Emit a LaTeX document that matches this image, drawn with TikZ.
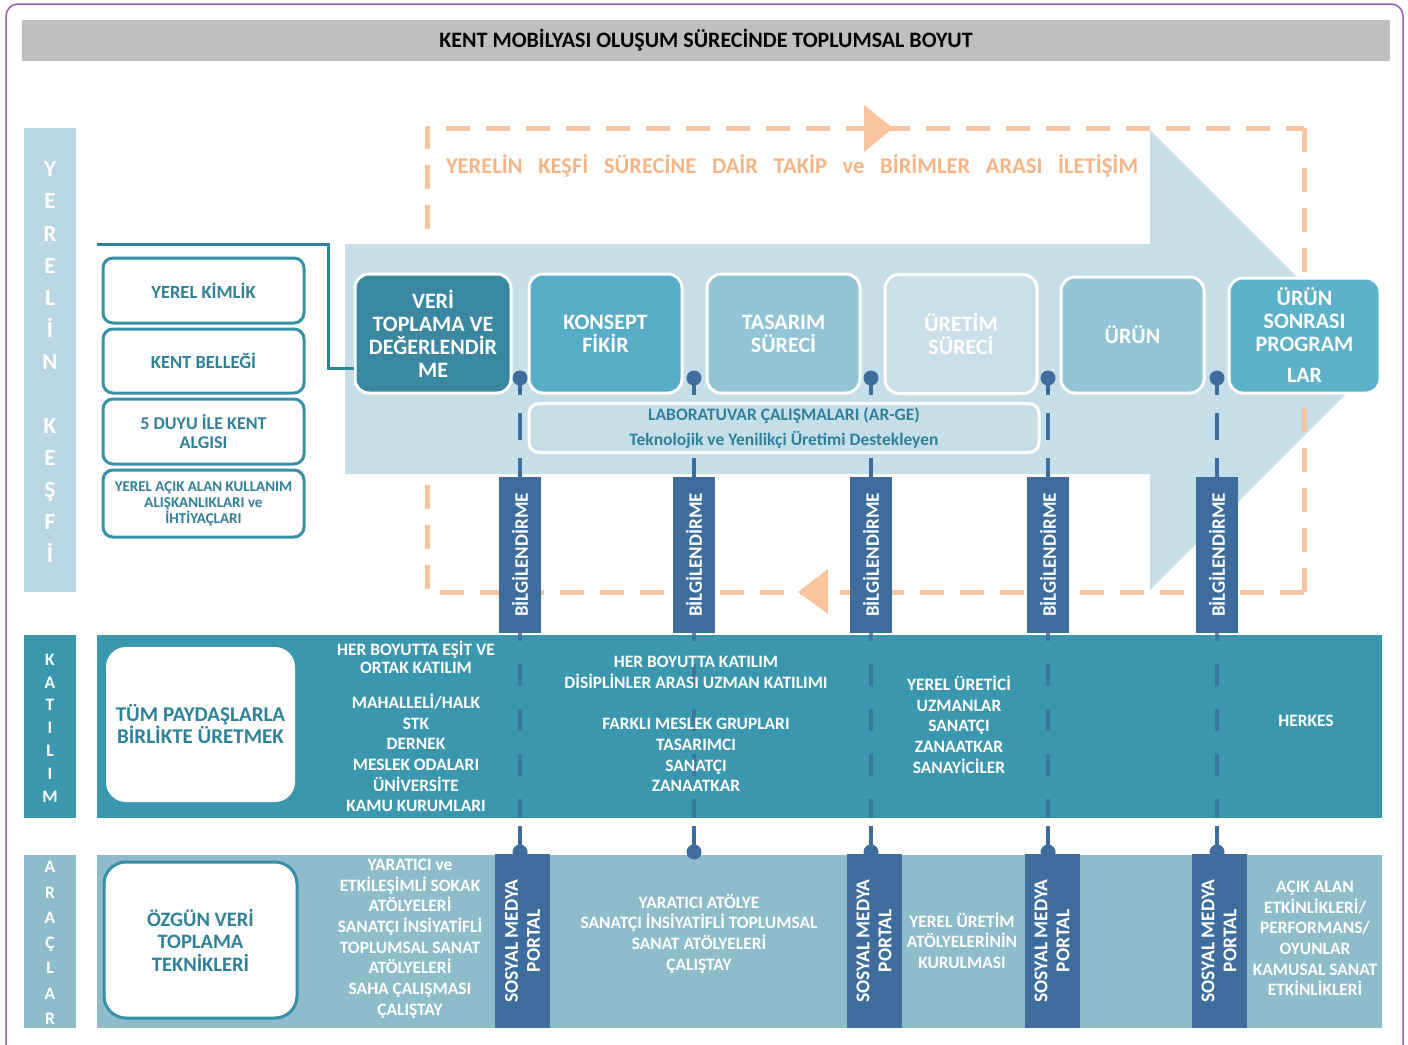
\documentclass[tikz,border=0pt]{standalone}
\usepackage{fontspec}
\setmainfont{Carlito}
\usetikzlibrary{calc}
\definecolor{titlegray}{HTML}{BFBFBF}
\definecolor{kesif}{HTML}{B9D6E2}
\definecolor{arrowc}{HTML}{C6DEE8}
\definecolor{orng}{HTML}{F9C49B}
\definecolor{orngtxt}{HTML}{F4B485}
\definecolor{tealtxt}{HTML}{2F8099}
\definecolor{tealline}{HTML}{3690A8}
\definecolor{veric}{HTML}{3A889F}
\definecolor{konc}{HTML}{58ADC6}
\definecolor{tasc}{HTML}{93C4D5}
\definecolor{uretc}{HTML}{C9E0EA}
\definecolor{sonc}{HTML}{5DB1C9}
\definecolor{dblue}{HTML}{3E6D9D}
\definecolor{katc}{HTML}{3B97AD}
\definecolor{arac}{HTML}{8EBCCB}
\definecolor{purp}{HTML}{9B59B6}
\pgfdeclarelayer{back}
\pgfdeclarelayer{mid}
\pgfsetlayers{back,mid,main}
\tikzset{
  proc/.style={draw=white, line width=3pt, rounded corners=14pt, text=white, align=center, inner sep=0pt,
    font=\fontsize{22}{23}\selectfont\bfseries, minimum height=119pt},
  lbox/.style={draw=tealline, fill=white, line width=3pt, rounded corners=10pt, text=tealtxt, align=center,
    inner sep=0pt, minimum width=201pt},
  bilgi/.style={fill=dblue, rotate=90, minimum width=156pt, minimum height=42pt, inner sep=0pt, text=white,
    font=\fontsize{19}{20}\selectfont\bfseries},
  smp/.style={fill=dblue, rotate=90, minimum width=174pt, minimum height=55pt, inner sep=0pt, text=white,
    align=center, font=\fontsize{19.5}{22}\selectfont\bfseries},
  bandtxt/.style={text=white, align=center, inner sep=0pt, font=\fontsize{17.4}{20.7}\selectfont\bfseries},
  vbar/.style={text=white, align=center, inner sep=0pt},
  upconn/.style={draw=dblue, line width=3.5pt, dash pattern=on 17pt off 18pt on 27pt off 18pt on 40pt off 0pt},
  lowconn/.style={draw=dblue, draw opacity=0.8, line width=3.5pt, dash pattern=on 22pt off 23pt, dash phase=14pt},
  stub/.style={draw=dblue, line width=3.5pt},
  dot/.style={circle, fill=dblue, minimum size=15pt, inner sep=0pt},
  odash/.style={draw=orng, line width=5pt, dash pattern=on 24pt off 16pt}
}
\begin{document}
\begin{tikzpicture}[x=1pt,y=-1pt]
\useasboundingbox (0,0) rectangle (1408,1044);
% frame and title
\draw[purp, line width=1.5pt, rounded corners=12pt] (6,1060) -- (6,4) -- (1403,4) -- (1403,1060);
\node[fill=titlegray, minimum width=1368pt, minimum height=41pt, inner sep=0pt,
  font=\fontsize{22}{24}\selectfont\bfseries] (title) at (706,40.5) {KENT MOBİLYASI OLUŞUM SÜRECİNDE TOPLUMSAL BOYUT};
% left side bars
\node[fill=kesif, minimum width=52pt, minimum height=464pt, inner sep=0pt] (kbar) at (50,360) {};
\node[vbar, font=\fontsize{23}{32.1}\selectfont\bfseries] (ktxt) at (50,362) {Y\\E\\R\\E\\L\\İ\\N\\[32.1pt]K\\E\\Ş\\F\\İ};
\node[fill=katc, minimum width=52pt, minimum height=183pt, inner sep=0pt] (tbar) at (50,726.5) {};
\node[vbar, font=\fontsize{17.5}{22.8}\selectfont\bfseries] (ttxt) at (50,728) {K\\A\\T\\I\\L\\I\\M};
\node[fill=arac, minimum width=52pt, minimum height=173pt, inner sep=0pt] (abar) at (50,941.5) {};
\node[vbar, font=\fontsize{17.5}{25.3}\selectfont\bfseries] (atxt) at (50,943) {A\\R\\A\\Ç\\L\\A\\R};
% background: dashed loop, arrow, bands
\begin{pgfonlayer}{back}
\draw[odash] (1304,592) -- (427,592) -- (427,128) -- (1304,128);
\fill[arrowc] (345,244) -- (1150,244) -- (1150,130) -- (1380,360) -- (1150,590) -- (1150,474) -- (345,474) -- cycle;
\draw[odash] (1304,128) -- (1304,592);
\fill[orng] (864,105) -- (893,128) -- (864,152) -- cycle;
\fill[orng] (828,569) -- (798,592) -- (828,614) -- cycle;
\node[fill=katc, minimum width=1285pt, minimum height=183pt, inner sep=0pt] (katband) at (739.5,726.5) {};
\node[fill=arac, minimum width=1285pt, minimum height=173pt, inner sep=0pt] (araband) at (739.5,941.5) {};
\end{pgfonlayer}
\node[text=orngtxt, inner sep=0pt, font=\fontsize{22.5}{24}\selectfont\bfseries] (otxt) at (792,166)
  {\makebox[692pt][s]{YERELİN KEŞFİ SÜRECİNE DAİR TAKİP ve BİRİMLER ARASI İLETİŞİM}};
% left boxes
\node[lbox, minimum height=65pt, font=\fontsize{18.5}{20}\selectfont\bfseries] (kimlik) at (203.5,290.5) {YEREL KİMLİK};
\node[lbox, minimum height=64pt, font=\fontsize{18.5}{20}\selectfont\bfseries] (bellek) at (203.5,361) {KENT BELLEĞİ};
\node[lbox, minimum height=65pt, font=\fontsize{18}{19.5}\selectfont\bfseries] (duyu) at (203.5,431.5) {5 DUYU İLE KENT\\ALGISI};
\node[lbox, minimum height=67pt, font=\fontsize{15}{16}\selectfont\bfseries] (acik) at (203.5,503.5) {YEREL AÇIK ALAN KULLANIM\\ALIŞKANLIKLARI ve\\İHTİYAÇLARI};
% process boxes
\node[proc, fill=veric, minimum width=156pt] (veri) at (433,333.5) {VERİ\\TOPLAMA VE\\DEĞERLENDİR\\ME};
\node[proc, fill=konc, minimum width=153pt] (konsept) at (605.5,333.5) {KONSEPT\\FİKİR};
\node[proc, fill=tasc, minimum width=153pt] (tasarim) at (783.5,333.5) {TASARIM\\SÜRECİ};
\node[proc, fill=uretc, minimum width=152pt] (uretim) at (961,334) {ÜRETİM\\SÜRECİ};
\node[proc, fill=tasc, minimum width=143pt, minimum height=116pt] (urun) at (1132.5,335) {ÜRÜN};
\node[proc, fill=sonc, minimum width=151pt, minimum height=115pt] (sonrasi) at (1304.5,335.5) {ÜRÜN\\SONRASI\\PROGRAM\\[8pt]LAR};
% teal connector from the left
\coordinate (lstart) at (97,244);
\coordinate (lbend) at (328,244);
\draw[tealtxt, line width=3pt] (lstart) -- (lbend) |- ([yshift=-34.5pt]veri.west);
% lab box
\node[draw=white, line width=3pt, rounded corners=10pt, fill=arrowc, minimum width=510pt, minimum height=49pt,
  inner sep=0pt, text=tealtxt, align=center, font=\fontsize{17.5}{25}\selectfont\bfseries] (lab) at (784,428)
  {LABORATUVAR ÇALIŞMALARI (AR-GE)\\Teknolojik ve Yenilikçi Üretimi Destekleyen};
% band white boxes
\node[fill=white, rounded corners=20pt, minimum width=189pt, minimum height=155pt, inner sep=0pt, text=tealtxt,
  align=center, font=\fontsize{21}{22}\selectfont\bfseries] (tum) at (200.5,724.5) {TÜM PAYDAŞLARLA\\BİRLİKTE ÜRETMEK};
\node[fill=white, draw=tealline, line width=3pt, rounded corners=22pt, minimum width=193pt, minimum height=156pt,
  inner sep=0pt, text=tealtxt, align=center, font=\fontsize{20.5}{22.5}\selectfont\bfseries] (ozgun) at (200.5,940)
  {ÖZGÜN VERİ\\TOPLAMA\\TEKNİKLERİ};
% columns: dots, bars, connectors
\foreach \i/\x in {1/520,2/694,3/871,4/1048,5/1217}{
  \node[dot] (d\i) at (\x,378) {};
  \node[bilgi] (b\i) at (\x,555) {BİLGİLENDİRME};
  \coordinate (k\i) at (\x,818);
  \coordinate (m\i) at (\x,826);
  \node[dot] (e\i) at (\x,852) {};
  \begin{pgfonlayer}{mid}
    \draw[upconn] (d\i.center) -- (b\i.east);
    \draw[lowconn] (b\i.west) -- (k\i);
    \draw[stub] (m\i) -- (e\i.center);
  \end{pgfonlayer}
}
\node[smp] (s1) at (522.5,941) {SOSYAL MEDYA\\PORTAL};
\node[smp] (s2) at (874,941) {SOSYAL MEDYA\\PORTAL};
\node[smp] (s3) at (1052,941) {SOSYAL MEDYA\\PORTAL};
\node[smp] (s4) at (1219,941) {SOSYAL MEDYA\\PORTAL};
% katilim texts
\node[bandtxt] (kt1) at (416,726.5) {HER BOYUTTA EŞİT VE\\[-2.5pt]ORTAK KATILIM\\[14pt]MAHALLELİ/HALK\\STK\\DERNEK\\MESLEK ODALARI\\ÜNİVERSİTE\\KAMU KURUMLARI};
\node[bandtxt] (kt2) at (696,724) {HER BOYUTTA KATILIM\\DİSİPLİNLER ARASI UZMAN KATILIMI\\[21pt]FARKLI MESLEK GRUPLARI\\TASARIMCI\\SANATÇI\\ZANAATKAR};
\node[bandtxt] (kt3) at (959,724.5) {YEREL ÜRETİCİ\\UZMANLAR\\SANATÇI\\ZANAATKAR\\SANAYİCİLER};
\node[bandtxt] (kt4) at (1306,721) {HERKES};
% araclar texts
\node[bandtxt] (at1) at (410,938.5) {YARATICI ve\\ETKİLEŞİMLİ SOKAK\\ATÖLYELERİ\\SANATÇI İNSİYATİFLİ\\TOPLUMSAL SANAT\\ATÖLYELERİ\\SAHA ÇALIŞMASI\\ÇALIŞTAY};
\node[bandtxt] (at2) at (699,933.5) {YARATICI ATÖLYE\\SANATÇI İNSİYATİFLİ TOPLUMSAL\\SANAT ATÖLYELERİ\\ÇALIŞTAY};
\node[bandtxt] (at3) at (962,940.5) {YEREL ÜRETİM\\ATÖLYELERİNİN\\KURULMASI};
\node[bandtxt] (at4) at (1315,938.5) {AÇIK ALAN\\ETKİNLİKLERİ/\\PERFORMANS/\\OYUNLAR\\KAMUSAL SANAT\\ETKİNLİKLERİ};
\end{tikzpicture}
\end{document}
